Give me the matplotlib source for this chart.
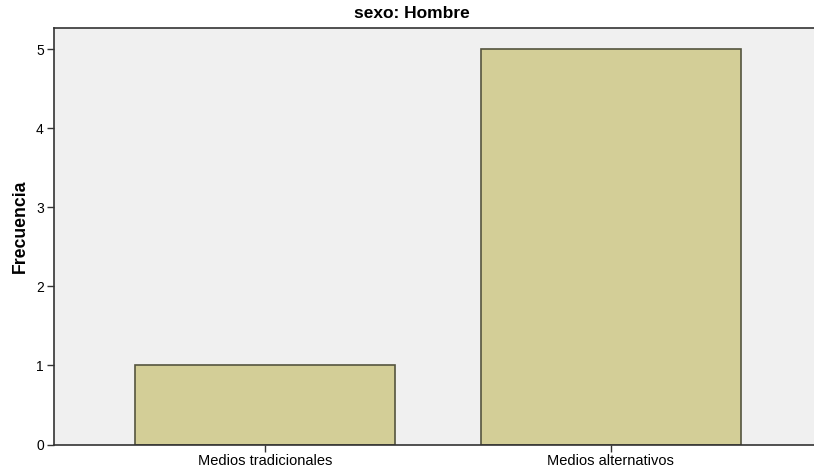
import matplotlib.pyplot as plt

plt.rcParams['font.family'] = ['Liberation Sans', 'DejaVu Sans']

# datos
categorias = ['Medios tradicionales', 'Medios alternativos']
frecuencia = [1, 5]
yticks = [0, 1, 2, 3, 4, 5]

W, H = 814, 471
fig = plt.figure(figsize=(W / 100, H / 100), dpi=100)
left, right, top, bottom = 53.5, 814, 28, 444.5
ax = fig.add_axes([left / W, 1 - bottom / H, (right - left) / W, (bottom - top) / H])
ax.set_facecolor('#F0F0F0')

x = list(range(len(categorias)))
ax.bar(x, frecuencia, width=0.751, color='#D3CE97', edgecolor='#55553F', linewidth=1.2)

ax.set_xlim(-0.611, 1.587)
ax.set_ylim(0, 5.27)
ax.set_yticks(yticks)
ax.set_yticklabels([str(v) for v in yticks], fontsize=10)
ax.set_xticks(x)
ax.set_xticklabels(categorias, fontsize=10.5)
ax.tick_params(axis='y', length=5, width=1, color='#333333', pad=2)
ax.tick_params(axis='x', length=5, width=1, color='#333333', pad=2)

for s in ['left', 'bottom', 'top']:
    ax.spines[s].set_color('#333333')
    ax.spines[s].set_linewidth(1.2)
ax.spines['right'].set_visible(False)

fig.text(20 / W, 1 - 226 / H, 'Frecuencia', fontsize=12.7, fontweight='bold',
         rotation=90, ha='center', va='center')
fig.text(412 / W, 1 - 14 / H, 'sexo: Hombre', fontsize=12.5, fontweight='bold',
         ha='center', va='center')

fig.savefig('out.png', dpi=100)
